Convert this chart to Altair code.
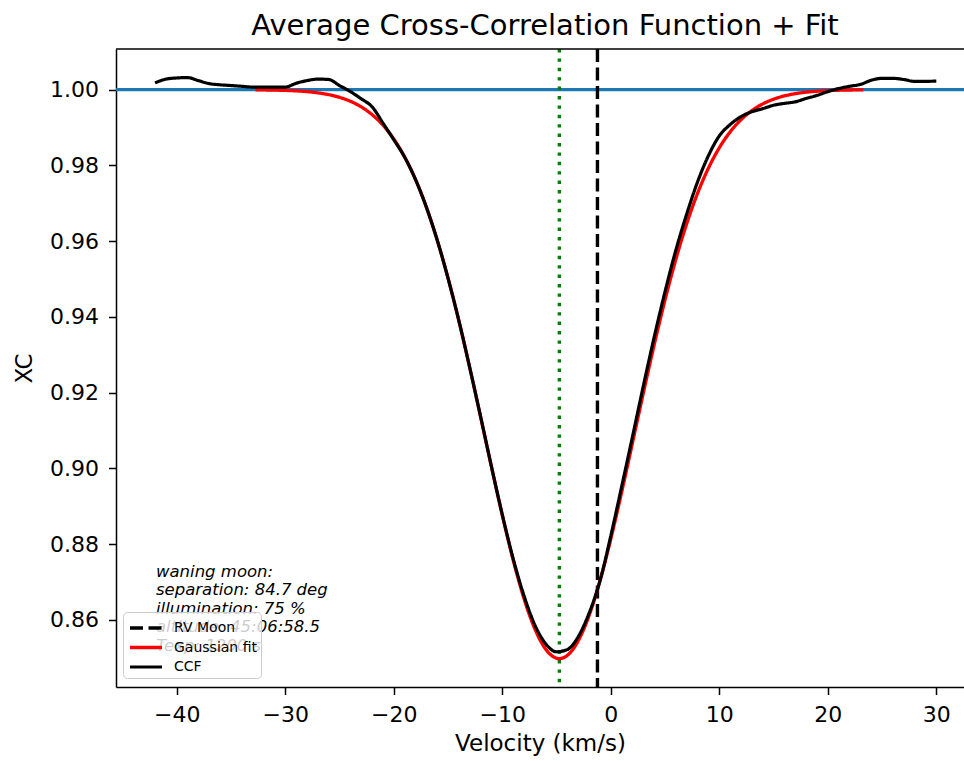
import altair as alt
import pandas as pd

# ---------------- data ----------------
CCF_V = [-42, -41, -40, -39, -38, -37, -36, -35, -34, -33, -32, -31, -30, -29, -28, -27, -26, -25,
         -24, -23, -22, -21, -20, -19, -18, -17, -16, -15, -14, -13, -12, -11, -10, -9, -8, -7,
         -6, -5, -4, -3, -2, -1, 0, 1, 2, 3, 4, 5, 6, 7, 8, 9, 10, 11, 12, 13, 14, 15, 16, 17,
         18, 19, 20, 21, 22, 23, 24, 25, 26, 27, 28, 29, 30]
CCF_XC = [1.0018, 1.0028, 1.0031, 1.0032, 1.0024, 1.0016, 1.0013, 1.0011, 1.0009, 1.0007, 1.0007,
          1.0007, 1.0007, 1.0017, 1.0024, 1.0028, 1.0027, 1.0011, 0.9995, 0.9976, 0.9955, 0.9912,
          0.9868, 0.9822, 0.9763, 0.9690, 0.9603, 0.9502, 0.9390, 0.9266, 0.9137, 0.9005, 0.8878,
          0.8762, 0.8664, 0.8587, 0.8537, 0.8516, 0.8522, 0.8556, 0.8618, 0.8703, 0.8822, 0.8952,
          0.9084, 0.9218, 0.9347, 0.9467, 0.9577, 0.9672, 0.9757, 0.9826, 0.9878, 0.9908, 0.9929,
          0.9942, 0.9950, 0.9959, 0.9964, 0.9968, 0.9977, 0.9985, 0.9995, 1.0003, 1.0009, 1.0014,
          1.0025, 1.0030, 1.0030, 1.0027, 1.0022, 1.0022, 1.0023]

FIT_V = [-32.74, -31.74, -30.74, -29.74, -28.74, -27.74, -26.74, -25.74, -24.74, -23.74, -22.74,
         -21.74, -20.74, -19.74, -18.74, -17.74, -16.74, -15.74, -14.74, -13.74, -12.74, -11.74,
         -10.74, -9.74, -8.74, -7.74, -6.74, -5.74, -4.74, -3.74, -2.74, -1.74, -0.74, 0.26, 1.26,
         2.26, 3.26, 4.26, 5.26, 6.26, 7.26, 8.26, 9.26, 10.26, 11.26, 12.26, 13.26, 14.26, 15.26,
         16.26, 17.26, 18.26, 19.26, 20.26, 21.26, 22.26, 23.26]
FIT_XC = [0.99996, 0.99993, 0.99988, 0.99979, 0.99965, 0.99942, 0.99907, 0.99854, 0.99775, 0.99661,
          0.99500, 0.99278, 0.98979, 0.98586, 0.98082, 0.97454, 0.96689, 0.95785, 0.94745, 0.93585,
          0.92330, 0.91022, 0.89708, 0.88448, 0.87303, 0.86334, 0.85598, 0.85137, 0.84980,
          0.85137, 0.85598, 0.86334, 0.87303, 0.88448, 0.89708, 0.91022, 0.92330, 0.93585, 0.94745,
          0.95785, 0.96689, 0.97454, 0.98082, 0.98586, 0.98979, 0.99278, 0.99500, 0.99661, 0.99775,
          0.99854, 0.99907, 0.99942, 0.99965, 0.99979, 0.99988, 0.99993, 0.99996]

BASELINE = 1.0
FIT_CENTER = -4.74
RV_MOON = -1.23

SERIES = ["RV Moon", "Gaussian fit", "CCF"]
SERIES_COLORS = ["black", "red", "black"]

X_TICKS = [-40, -30, -20, -10, 0, 10, 20, 30]
Y_TICKS = [0.86, 0.88, 0.90, 0.92, 0.94, 0.96, 0.98, 1.00]

INFO_LINES = ["waning moon:", "separation: 84.7 deg", "illumination: 75 %",
              "altitude: 45:06:58.5", "Texp: 1200 s"]

TITLE = "Average Cross-Correlation Function + Fit"

# ---------------- tables ----------------
ccf_df = pd.DataFrame({"v": CCF_V, "xc": CCF_XC, "series": "CCF"})
fit_df = pd.DataFrame({"v": FIT_V, "xc": FIT_XC, "series": "Gaussian fit"})
moon_df = pd.DataFrame({"v": [RV_MOON], "series": ["RV Moon"]})
one_df = pd.DataFrame({"k": [0]})

W, H = 848, 638
FONT = "DejaVu Sans"

xscale = alt.Scale(domain=[-45.6, 32.55], nice=False, zero=False)
yscale = alt.Scale(domain=[0.8423, 1.01075], nice=False, zero=False)

xaxis = alt.Axis(values=X_TICKS, title="Velocity (km/s)", grid=False, format="d")
yaxis = alt.Axis(values=Y_TICKS, title="XC", grid=False, format=".2f")

leg = alt.Legend(title=None, orient="none", legendX=7, legendY=563,
                 symbolType="M-1.6,0H1.6", symbolSize=400, symbolOffset=7,
                 labelOffset=16, labelFontSize=14, labelFont=FONT, labelColor="black",
                 rowPadding=0.5, padding=4, fillColor="rgba(255,255,255,0.8)",
                 strokeColor="#cccccc", cornerRadius=4)

color = alt.Color("series:N", scale=alt.Scale(domain=SERIES, range=SERIES_COLORS), legend=leg)
dash = alt.StrokeDash("series:N", scale=alt.Scale(domain=SERIES, range=[[13, 5.5], [1, 0], [1, 0]]), legend=leg)
swidth = alt.StrokeWidth("series:N", scale=alt.Scale(domain=SERIES, range=[3.4, 3.2, 4.6]), legend=leg)

one = alt.Chart(one_df)

hline = one.mark_rule(color="#1f77b4", strokeWidth=3.2).encode(
    y=alt.datum(BASELINE, scale=yscale, axis=yaxis))
vfit = one.mark_rule(color="green", strokeWidth=3.4, strokeDash=[3.4, 6]).encode(
    x=alt.datum(FIT_CENTER, scale=xscale, axis=xaxis))
moon = alt.Chart(moon_df).mark_rule().encode(
    x=alt.X("v:Q", scale=xscale, axis=xaxis), color=color, strokeDash=dash, strokeWidth=swidth)
fit = alt.Chart(fit_df).mark_line(interpolate="monotone").encode(
    x=alt.X("v:Q", scale=xscale, axis=xaxis), y=alt.Y("xc:Q", scale=yscale, axis=yaxis),
    color=color, strokeDash=dash, strokeWidth=swidth)
ccf = alt.Chart(ccf_df).mark_line(interpolate="monotone").encode(
    x=alt.X("v:Q", scale=xscale, axis=xaxis), y=alt.Y("xc:Q", scale=yscale, axis=yaxis),
    color=color, strokeDash=dash, strokeWidth=swidth)

info = one.mark_text(text=INFO_LINES, align="left", baseline="top", fontStyle="italic",
                     fontSize=16.5, lineHeight=18.4, font=FONT, color="black").encode(
    x=alt.value(40), y=alt.value(515))

top_spine = one.mark_rule(color="black", strokeWidth=1.5).encode(
    x=alt.value(0), x2=alt.value(W), y=alt.value(0))

chart = alt.layer(hline, vfit, moon, fit, ccf, info, top_spine).properties(
    width=W, height=H,
    title=alt.Title(TITLE, fontSize=29, font=FONT, fontWeight="normal", color="black",
                    anchor="middle", dx=5, offset=6),
    autosize=alt.AutoSizeParams(type="none"),
    padding={"left": 116, "top": 49, "right": 0, "bottom": 74},
).configure_view(stroke=None).configure_axis(
    labelFont=FONT, titleFont=FONT, labelFontSize=22, titleFontSize=23,
    labelColor="black", titleColor="black", domainColor="black", tickColor="black",
    domainWidth=1.5, tickWidth=1.5, tickSize=7.5, labelPadding=10, titleFontWeight="normal",
).configure_axisX(titlePadding=7).configure_axisY(titlePadding=13)

chart.save("out.html", embed_options={"renderer": "svg", "actions": False})
